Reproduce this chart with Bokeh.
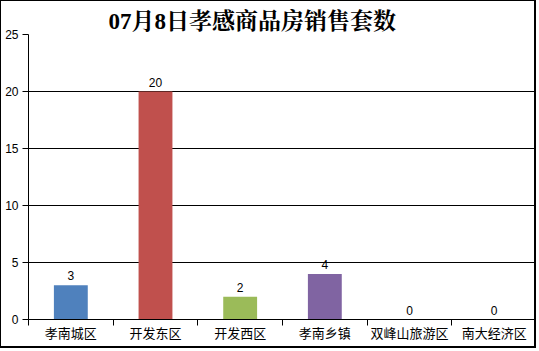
from bokeh.plotting import figure
from bokeh.models import FixedTicker, ColumnDataSource, LinearAxis, Range1d, Grid
from bokeh.embed import file_html
from bokeh.resources import INLINE
from bokeh.core.properties import value

title_text = "07月8日孝感商品房销售套数"
categories = ["孝南城区", "开发东区", "开发西区", "孝南乡镇", "双峰山旅游区", "南大经济区"]
counts = [3, 20, 2, 4, 0, 0]
colors = ["#4F81BD", "#C0504D", "#9BBB59", "#8064A2", "#4BACC6", "#F79646"]
y_ticks = [0, 5, 10, 15, 20, 25]

xs = [i + 0.5 for i in range(len(categories))]
src = ColumnDataSource(dict(x=xs, y=counts, c=colors, lbl=[str(v) for v in counts]))

p = figure(width=536, height=348, output_backend="svg", toolbar_location=None,
           x_range=Range1d(0, len(categories)), y_range=Range1d(0, 25),
           x_axis_type=None, y_axis_type=None,
           min_border_left=27, min_border_right=1, min_border_top=33, min_border_bottom=30)
p.styles = {"border-left": "1px solid black", "border-top": "1px solid black",
            "border-right": "2px solid black", "border-bottom": "2px solid black"}
p.outline_line_color = None
p.background_fill_color = "white"
p.border_fill_color = "white"

p.title.text = title_text
p.title.text_font = "Liberation Serif, Noto Serif CJK SC, Noto Sans CJK SC"
p.title.text_font_size = "23px"
p.title.text_font_style = "bold"
p.title.text_color = "black"
p.title.align = "left"
p.title.offset = 80
p.title.standoff = 2

yaxis = LinearAxis(ticker=FixedTicker(ticks=y_ticks))
yaxis.axis_line_color = "black"
yaxis.major_tick_line_color = "black"
yaxis.major_tick_out = 6
yaxis.major_tick_in = 0
yaxis.minor_tick_line_color = None
yaxis.major_label_text_font = "Liberation Sans"
yaxis.major_label_text_font_size = "12px"
yaxis.major_label_text_color = "black"
yaxis.major_label_standoff = 4
p.add_layout(yaxis, "left")

xaxis = LinearAxis(ticker=FixedTicker(ticks=xs, minor_ticks=list(range(len(categories) + 1))))
xaxis.major_label_overrides = {x: c for x, c in zip(xs, categories)}
xaxis.axis_line_color = "black"
xaxis.major_tick_line_color = None
xaxis.major_tick_out = 0
xaxis.major_tick_in = 0
xaxis.minor_tick_line_color = "black"
xaxis.minor_tick_out = 6
xaxis.minor_tick_in = 0
xaxis.major_label_text_font = "Noto Sans CJK SC"
xaxis.major_label_text_font_size = "13px"
xaxis.major_label_text_color = "black"
xaxis.major_label_standoff = -3
p.add_layout(xaxis, "below")

p.center = [Grid(dimension=1, ticker=FixedTicker(ticks=y_ticks), grid_line_color="black")]

p.vbar(x="x", top="y", width=0.4, fill_color="c", line_color=None, source=src)
p.text(x="x", y="y", text="lbl", source=src, text_align="center", text_baseline="bottom",
       y_offset=-5, text_font=value("Liberation Sans"), text_font_size="12px", text_color="black")

open("out.html", "w").write(file_html(p, INLINE))
